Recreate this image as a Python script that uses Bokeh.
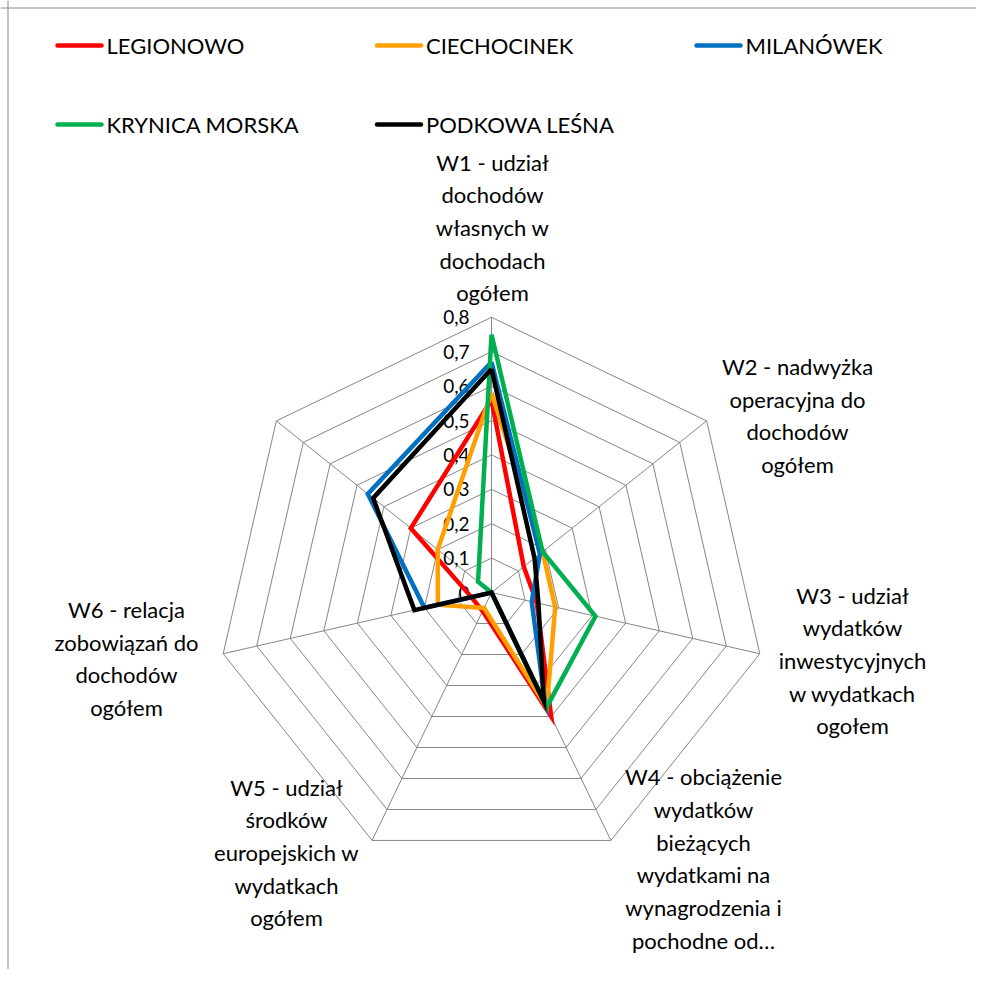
import math
from bokeh.plotting import figure
from bokeh.models import Range1d, Span
from bokeh.core.properties import value
from bokeh.embed import file_html
from bokeh.resources import INLINE

# ---------------- data ----------------
categories = [
    "W1 - udział\ndochodów\nwłasnych w\ndochodach\nogółem",
    "W2 - nadwyżka\noperacyjna do\ndochodów\nogółem",
    "W3 - udział\nwydatków\ninwestycyjnych\nw wydatkach\nogołem",
    "W4 - obciążenie\nwydatków\nbieżących\nwydatkami na\nwynagrodzenia i\npochodne od…",
    "W5 - udział\nśrodków\neuropejskich w\nwydatkach\nogółem",
    "W6 - relacja\nzobowiązań do\ndochodów\nogółem",
    "",
]
series_names = ["LEGIONOWO", "CIECHOCINEK", "MILANÓWEK", "KRYNICA MORSKA", "PODKOWA LEŚNA"]
legionowo = [0.56, 0.12, 0.135, 0.40, 0.06, 0.06, 0.30]
ciechocinek = [0.58, 0.19, 0.19, 0.37, 0.05, 0.16, 0.20]
milanowek = [0.67, 0.18, 0.12, 0.36, 0.00, 0.20, 0.46]
krynica_morska = [0.75, 0.19, 0.31, 0.37, 0.00, 0.00, 0.05]
podkowa_lesna = [0.65, 0.16, 0.14, 0.35, 0.00, 0.23, 0.44]
tick_values = [0.0, 0.1, 0.2, 0.3, 0.4, 0.5, 0.6, 0.7, 0.8]
tick_labels = ["0", "0,1", "0,2", "0,3", "0,4", "0,5", "0,6", "0,7", "0,8"]

# ---------------- styles / layout ----------------
colors = ["#FF0000", "#FFA000", "#0070C0", "#00B050", "#000000"]
FONT = "Lato"
W, H = 976, 969
K = 344.0              # pixels per unit value
CX, CY = 491.0, 592.0  # centre in figure pixels (from top-left)
N = len(categories)
FS = 22
LINE_H = 32.0 / (FS * 1.2)


def px(xi, yi):
    """figure pixel position (from top-left) -> data coords"""
    return (xi - CX) / K, (CY - yi) / K


def ang(i):
    return math.pi / 2 - i * 2 * math.pi / N


p = figure(width=W, height=H, output_backend="svg", toolbar_location=None,
           x_range=Range1d(-CX / K, (W - CX) / K),
           y_range=Range1d(-(H - CY) / K, CY / K),
           x_axis_location=None, y_axis_location=None, min_border=0)
p.grid.visible = False
p.outline_line_color = None
p.background_fill_color = "white"
p.border_fill_color = "white"

# frame (left and top edges visible in the reference)
p.add_layout(Span(location=px(7.5, 0)[0], dimension="height", line_color="#8a8a8a", line_width=1))
p.add_layout(Span(location=px(0, 7.5)[1], dimension="width", line_color="#8a8a8a", line_width=1))

# grid rings and spokes
rmax = tick_values[-1]
ring_xs, ring_ys = [], []
for v in tick_values[1:]:
    ring_xs.append([v * math.cos(ang(i)) for i in range(N + 1)])
    ring_ys.append([v * math.sin(ang(i)) for i in range(N + 1)])
p.multi_line(ring_xs, ring_ys, line_color="#868686", line_width=1)
p.segment(x0=[0] * N, y0=[0] * N,
          x1=[rmax * math.cos(ang(i)) for i in range(N)],
          y1=[rmax * math.sin(ang(i)) for i in range(N)],
          line_color="#868686", line_width=1)

# tick labels along W1 axis
p.text(x=[0] * len(tick_values), y=tick_values, text=tick_labels,
       x_offset=-22, text_align="right", text_baseline="middle",
       text_font=value(FONT), text_font_size="19px", text_color="#000000")

# series
all_series = [legionowo, ciechocinek, milanowek, krynica_morska, podkowa_lesna]
for vals, col in zip(all_series, colors):
    xs = [vals[i % N] * math.cos(ang(i % N)) for i in range(N + 1)]
    ys = [vals[i % N] * math.sin(ang(i % N)) for i in range(N + 1)]
    p.line(xs, ys, line_color=col, line_width=4.5, line_join="miter")

# category labels (block centres in figure pixels)
label_pos = [(492, 227), (797, 415), (852, 660), (703, 858), (286, 852), (126, 658), (0, 0)]
lx, ly, lt = [], [], []
for txt, (xi, yi) in zip(categories, label_pos):
    if not txt:
        continue
    x, y = px(xi, yi)
    lx.append(x); ly.append(y); lt.append(txt)
p.text(x=lx, y=ly, text=lt, text_align="center", text_baseline="middle",
       text_font=value(FONT), text_font_size=f"{FS}px", text_line_height=LINE_H,
       text_color="#000000")

# legend (3 per row)
for j, (name, col) in enumerate(zip(series_names, colors)):
    r, c = divmod(j, 3)
    x0i = 57 + 319.5 * c
    yi = 45 + 79 * r
    xa, ya = px(x0i, yi)
    xb, _ = px(x0i + 44, yi)
    xt, _ = px(x0i + 49, yi)
    p.segment(x0=[xa], y0=[ya], x1=[xb], y1=[ya], line_color=col, line_width=4.5, line_cap="round")
    p.text(x=[xt], y=[ya], text=[name], text_align="left", text_baseline="middle",
           text_font=value(FONT), text_font_size=f"{FS}px", text_color="#000000")

open("out.html", "w").write(file_html(p, INLINE))
